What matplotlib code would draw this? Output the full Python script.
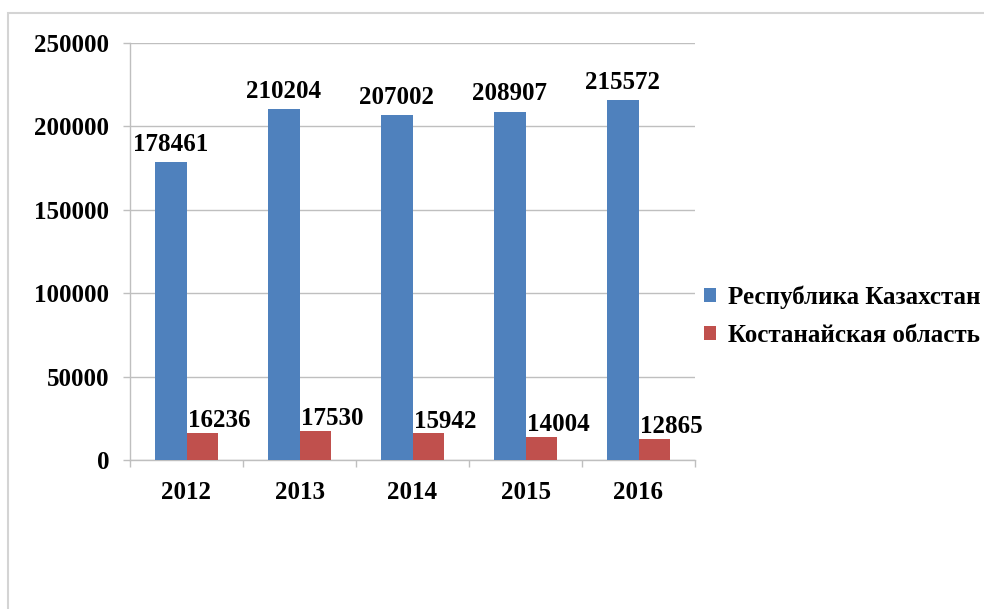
import numpy as np
import matplotlib
matplotlib.use('Agg')
from matplotlib import pyplot as plt
from matplotlib.patches import Rectangle

years = ['2012', '2013', '2014', '2015', '2016']
kazakhstan = [178461, 210204, 207002, 208907, 215572]
kostanay = [16236, 17530, 15942, 14004, 12865]
series_names = ['Республика Казахстан', 'Костанайская область']

plt.rcParams['font.family'] = ['Liberation Serif', 'DejaVu Serif']
plt.rcParams['font.weight'] = 'bold'

fig = plt.figure(figsize=(9.84, 6.09), dpi=100)
# рамка вокруг диаграммы (правый и нижний край обрезаны)
fig.patches.append(Rectangle((8 / 984, -0.1), 1.2, 1 - 13 / 609 + 0.1,
                             transform=fig.transFigure, fill=False,
                             edgecolor='#d4d4d4', linewidth=1.5))

ax = fig.add_axes([130 / 984, 1 - 460 / 609, 565 / 984, 417 / 609])

x = np.arange(len(years))
w = 0.283
b1 = ax.bar(x - w / 2, kazakhstan, w, color='#4F81BD', label=series_names[0], zorder=3)
b2 = ax.bar(x + w / 2, kostanay, w, color='#C0504D', label=series_names[1], zorder=3)

for xi, v in zip(x, kazakhstan):
    ax.annotate(str(v), (xi - w / 2, v), xytext=(0, 8), textcoords='offset points',
                ha='center', va='baseline', fontsize=18, fontweight='bold')
for xi, v in zip(x, kostanay):
    ax.annotate(str(v), (xi, v), xytext=(1, 4), textcoords='offset points',
                ha='left', va='baseline', fontsize=18, fontweight='bold')

ax.set_xlim(-0.5, len(years) - 0.5)
ax.set_ylim(0, 250000)
ax.set_yticks(np.arange(0, 250001, 50000))
ax.set_yticklabels([str(t) for t in range(0, 250001, 50000)])
ax.set_xticks(x)
ax.set_xticklabels(years)
ax.set_xticks(np.arange(-0.5, len(years), 1), minor=True)

ax.tick_params(axis='x', which='major', length=0, pad=15, labelsize=18)
ax.tick_params(axis='x', which='minor', length=5, color='#bfbfbf', width=1)
ax.tick_params(axis='y', length=5, color='#bfbfbf', width=1, pad=10, labelsize=18)

ax.grid(axis='y', color='#bfbfbf', linewidth=1, zorder=0)
for s in ['top', 'right']:
    ax.spines[s].set_visible(False)
for s in ['left', 'bottom']:
    ax.spines[s].set_color('#bfbfbf')
    ax.spines[s].set_linewidth(1)

ax.legend(loc='center left', bbox_to_anchor=(1.0, 0.345), frameon=False,
          fontsize=18, handlelength=0.5, handleheight=0.5, handletextpad=0.45,
          labelspacing=0.6, borderaxespad=0.0, borderpad=0.35)

fig.savefig('out.png', dpi=100)
